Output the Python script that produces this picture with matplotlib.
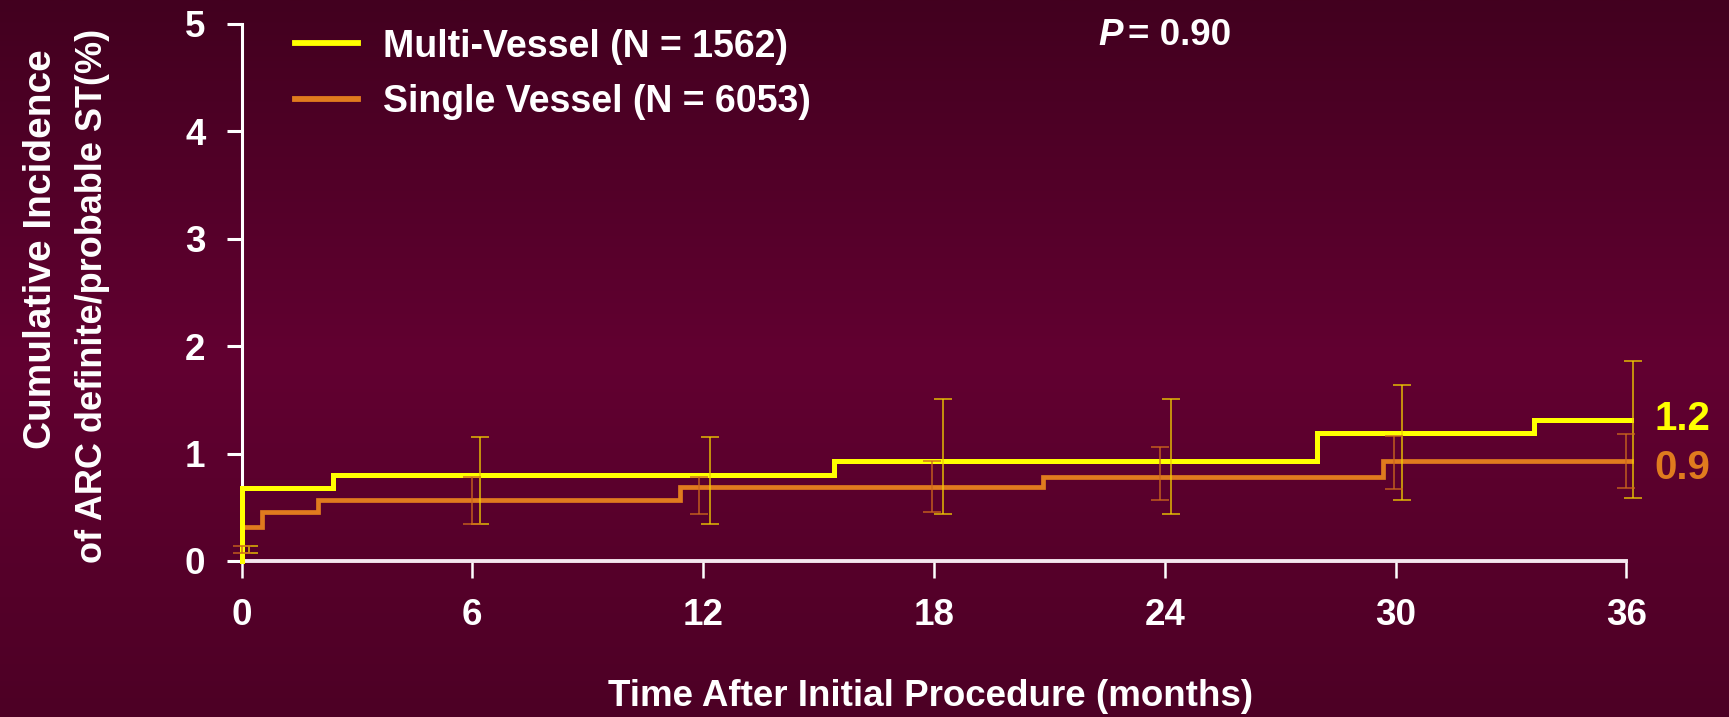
import numpy as np
import matplotlib
matplotlib.use("Agg")
import matplotlib.pyplot as plt
from matplotlib.colors import LinearSegmentedColormap

plt.rcParams['font.family'] = ['Liberation Sans', 'DejaVu Sans']
plt.rcParams['font.weight'] = 'bold'

# Kaplan-Meier style step curves (months, %)
multi_t = [0, 0, 2.37, 15.41, 27.96, 33.6, 36.13]
multi_y = [0, 0.68, 0.80, 0.93, 1.19, 1.31, 1.31]
single_t = [0, 0, 0.52, 2.0, 11.4, 20.83, 29.66, 36.13]
single_y = [0, 0.32, 0.455, 0.57, 0.686, 0.78, 0.934, 0.934]

# confidence intervals
multi_ci_t = [0.2, 6.2, 12.18, 18.24, 24.16, 30.16, 36.18]
multi_ci_lo = [0.07, 0.34, 0.34, 0.44, 0.44, 0.565, 0.59]
multi_ci_hi = [0.135, 1.15, 1.15, 1.51, 1.51, 1.64, 1.865]
single_ci_t = [0.0, 6.0, 11.88, 17.95, 23.88, 29.96, 35.98]
single_ci_lo = [0.07, 0.34, 0.44, 0.46, 0.565, 0.667, 0.677]
single_ci_hi = [0.135, 0.78, 0.78, 0.93, 1.06, 1.16, 1.18]

labels = ['Multi-Vessel (N = 1562)', 'Single Vessel (N = 6053)']
end_labels = ['1.2', '0.9']
end_label_y = [1.32, 0.87]
x_ticks = [0, 6, 12, 18, 24, 30, 36]
y_ticks = [0, 1, 2, 3, 4, 5]

yellow = '#ffff00'
orange = '#e07b1e'
fs = 26.5

fig = plt.figure(figsize=(17.29, 7.17), dpi=100)

# background gradient
bg = fig.add_axes([0, 0, 1, 1], zorder=-10)
cmap = LinearSegmentedColormap.from_list('bg', [(0, '#42001f'), (0.5, '#620031'), (1, '#4d0025')])
bg.imshow(np.linspace(0, 1, 256).reshape(-1, 1), aspect='auto', cmap=cmap, extent=[0, 1, 0, 1])
bg.axis('off')

ax = fig.add_axes([0.1397, 0.2176, 0.8010, 0.7490])
ax.set_facecolor('none')

l1, = ax.plot(multi_t, multi_y, drawstyle='steps-post', color=yellow, lw=3.6,
              solid_joinstyle='miter', zorder=4, clip_on=False)
l2, = ax.plot(single_t, single_y, drawstyle='steps-post', color=orange, lw=3.4,
              solid_joinstyle='miter', zorder=3, clip_on=False)

for t, lo, hi, c in [(multi_ci_t, multi_ci_lo, multi_ci_hi, '#f0cc00'),
                     (single_ci_t, single_ci_lo, single_ci_hi, '#cc661c')]:
    lo = np.array(lo)
    hi = np.array(hi)
    ax.errorbar(t, (lo + hi) / 2, yerr=(hi - lo) / 2, fmt='none', ecolor=c,
                elinewidth=1.1, capsize=6.5, capthick=1.1, alpha=0.9, zorder=5,
                clip_on=False)

ax.set_xlim(0, 36)
ax.set_ylim(0, 5)
ax.set_xticks(x_ticks)
ax.set_yticks(y_ticks)
for s in ['top', 'right']:
    ax.spines[s].set_visible(False)
ax.spines['left'].set_color('white')
ax.spines['left'].set_linewidth(2.2)
ax.spines['bottom'].set_color('#f4e6ee')
ax.spines['bottom'].set_linewidth(2.8)
ax.tick_params(axis='y', colors='white', length=11, width=2.2, pad=15, labelsize=fs)
ax.tick_params(axis='x', colors='white', length=12, width=1.8, pad=15, labelsize=fs)
for lab in ax.get_xticklabels() + ax.get_yticklabels():
    lab.set_fontweight('bold')

for txt, yv, c in zip(end_labels, end_label_y, [yellow, orange]):
    ax.text(36.72, yv, txt, color=c, fontsize=29, fontweight='bold',
            ha='left', va='center')

leg = ax.legend([l1, l2], labels, loc='upper left', bbox_to_anchor=(0.1706, 0.9602),
                bbox_transform=fig.transFigure, frameon=False, fontsize=27,
                handlelength=1.68, handletextpad=0.67, labelspacing=0.52,
                borderpad=0, borderaxespad=0)
for t in leg.get_texts():
    t.set_color('white')
    t.set_fontweight('bold')
for h in leg.get_lines():
    h.set_linewidth(4.2)

fig.text(0.635, 0.951, 'P', fontsize=fs, fontweight='bold', fontstyle='italic',
         color='white', ha='left', va='center')
fig.text(0.6524, 0.951, '= 0.90', fontsize=fs, fontweight='bold',
         color='white', ha='left', va='center')

fig.text(0.0235, 0.6527, 'Cumulative Incidence', rotation=90, fontsize=28,
         fontweight='bold', color='white', ha='center', va='center')
fig.text(0.0535, 0.587, 'of ARC definite/probable ST(%)', rotation=90, fontsize=26,
         fontweight='bold', color='white', ha='center', va='center')
fig.text(0.538, 0.0279, 'Time After Initial Procedure (months)', fontsize=fs,
         fontweight='bold', color='white', ha='center', va='center')

fig.savefig('out.png', dpi=100)
